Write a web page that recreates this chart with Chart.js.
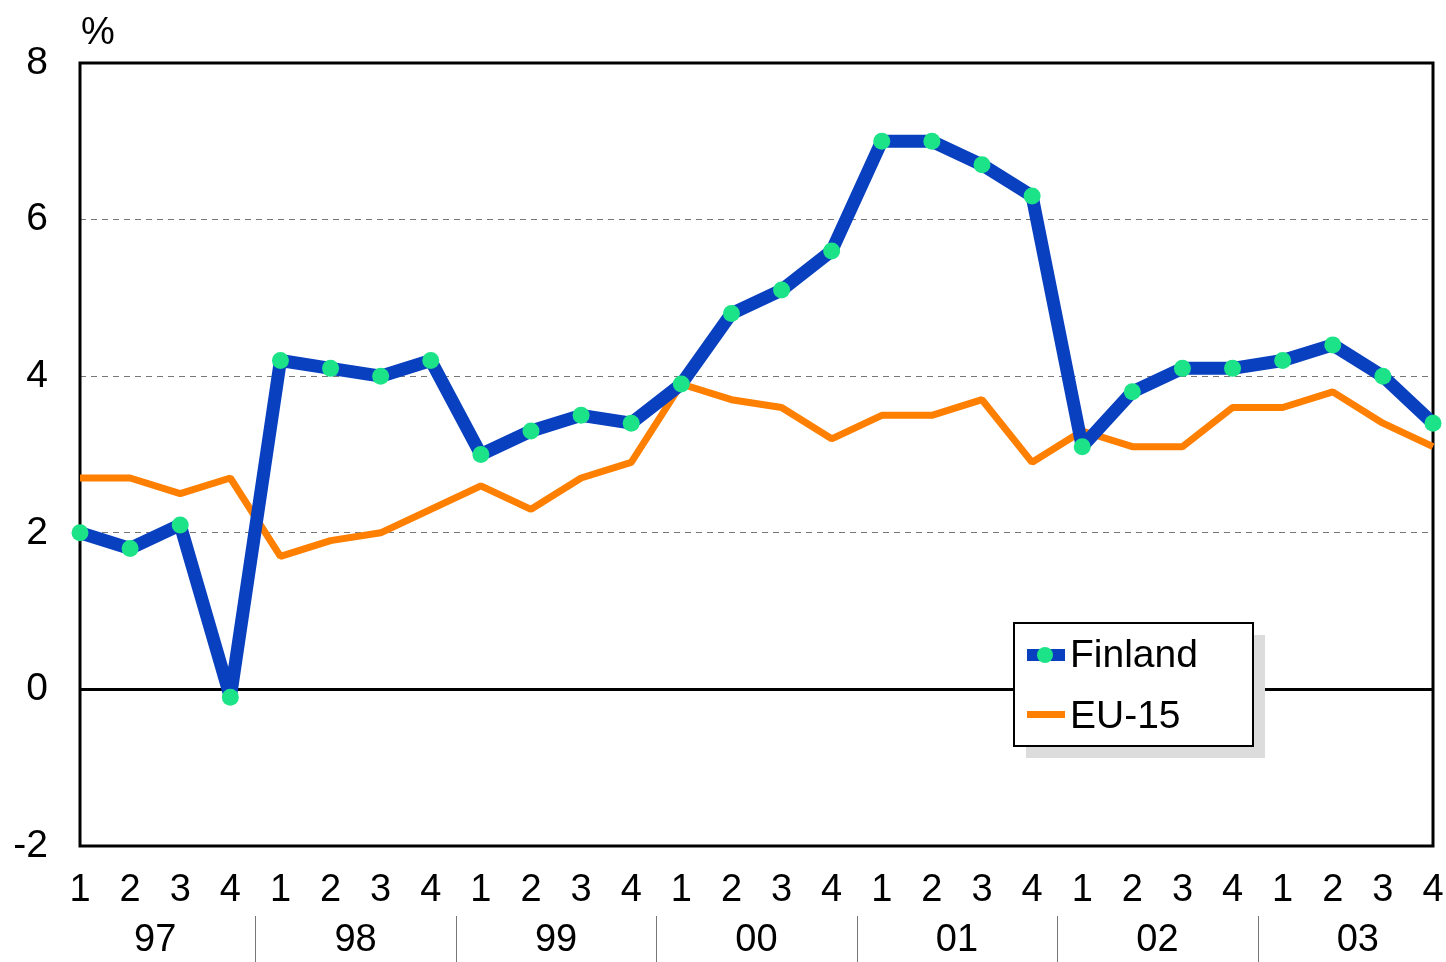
<!DOCTYPE html>
<html>
<head>
<meta charset="utf-8">
<script src="https://cdn.jsdelivr.net/npm/chart.js@4/dist/chart.umd.min.js"></script>
<style>
  html, body { margin: 0; padding: 0; background: #fff; }
  #wrap { width: 1446px; height: 962px; position: relative; }
</style>
</head>
<body>
<div id="wrap"><canvas id="chart" width="1446" height="962"></canvas></div>
<script>
const years = ['97', '98', '99', '00', '01', '02', '03'];
const quarters = ['1', '2', '3', '4'];
const finland = [2.0, 1.8, 2.1, -0.1, 4.2, 4.1, 4.0, 4.2, 3.0, 3.3, 3.5, 3.4, 3.9, 4.8, 5.1, 5.6,
                 7.0, 7.0, 6.7, 6.3, 3.1, 3.8, 4.1, 4.1, 4.2, 4.4, 4.0, 3.4];
const eu15 = [2.7, 2.7, 2.5, 2.7, 1.7, 1.9, 2.0, 2.3, 2.6, 2.3, 2.7, 2.9, 3.9, 3.7, 3.6, 3.2,
              3.5, 3.5, 3.7, 2.9, 3.3, 3.1, 3.1, 3.6, 3.6, 3.8, 3.4, 3.1];
const yTicks = [-2, 0, 2, 4, 6, 8];

const labels = [];
years.forEach(y => quarters.forEach(q => labels.push(q)));

const FONT = '"Liberation Sans", Arial, sans-serif';
const BLUE = '#0840c0';
const GREEN = '#1ce388';
const ORANGE = '#ff7f00';

// frame, zero line, x labels and legend
const extras = {
    id: 'extras',
    beforeDatasetsDraw(chart) {
        const c = chart.ctx, a = chart.chartArea;
        const y0 = chart.scales.y.getPixelForValue(0);
        c.save();
        c.strokeStyle = '#000';
        c.lineWidth = 3;
        c.beginPath();
        c.moveTo(a.left, y0);
        c.lineTo(a.right, y0);
        c.stroke();
        c.strokeRect(a.left, a.top, a.right - a.left, a.bottom - a.top);
        c.restore();
    },
    afterDraw(chart) {
        const c = chart.ctx;
        const x = chart.scales.x;
        c.save();
        // % unit
        c.fillStyle = '#000';
        c.font = '38px ' + FONT;
        c.textAlign = 'left';
        c.textBaseline = 'alphabetic';
        c.fillText('%', 81, 44);

        // quarter labels
        c.font = '38px ' + FONT;
        c.textAlign = 'center';
        c.textBaseline = 'middle';
        labels.forEach((q, i) => c.fillText(q, x.getPixelForValue(i), 891));

        // year labels + separators
        years.forEach((yr, i) => {
            const xa = x.getPixelForValue(i * 4);
            const xb = x.getPixelForValue(i * 4 + 3);
            c.fillText(yr, (xa + xb) / 2, 941);
            if (i > 0) {
                const xs = (x.getPixelForValue(i * 4 - 1) + xa) / 2;
                c.strokeStyle = '#777';
                c.lineWidth = 1;
                c.beginPath();
                c.moveTo(Math.round(xs) + 0.5, 916);
                c.lineTo(Math.round(xs) + 0.5, 962);
                c.stroke();
            }
        });

        // legend
        const lx = 1014, ly = 623, lw = 239, lh = 123;
        c.fillStyle = '#dcdcdc';
        c.fillRect(lx + 12, ly + 12, lw, lh);
        c.fillStyle = '#fff';
        c.fillRect(lx, ly, lw, lh);
        c.strokeStyle = '#000';
        c.lineWidth = 2;
        c.strokeRect(lx, ly, lw, lh);

        c.fillStyle = BLUE;
        c.fillRect(1027, 649, 38, 12);
        c.fillStyle = GREEN;
        c.beginPath();
        c.arc(1045, 655, 8, 0, Math.PI * 2);
        c.fill();
        c.fillStyle = ORANGE;
        c.fillRect(1027, 711, 38, 7);

        c.fillStyle = '#000';
        c.font = '39px ' + FONT;
        c.textAlign = 'left';
        c.textBaseline = 'middle';
        c.fillText('Finland', 1070, 656);
        c.fillText('EU-15', 1070, 717);
        c.restore();
    }
};

new Chart(document.getElementById('chart'), {
    type: 'line',
    data: {
        labels: labels,
        datasets: [{
            label: 'Finland',
            data: finland,
            borderColor: BLUE,
            borderWidth: 13,
            borderJoinStyle: 'bevel',
            pointBackgroundColor: GREEN,
            pointBorderWidth: 0,
            pointRadius: 8.5,
            tension: 0,
            clip: false,
            order: 0
        }, {
            label: 'EU-15',
            data: eu15,
            borderColor: ORANGE,
            borderWidth: 7,
            borderJoinStyle: 'bevel',
            pointRadius: 0,
            tension: 0,
            clip: false,
            order: 1
        }]
    },
    options: {
        responsive: false,
        animation: false,
        layout: { padding: { top: 63, right: 13, left: 0, bottom: 0 } },
        plugins: { legend: { display: false }, tooltip: { enabled: false } },
        scales: {
            x: {
                offset: false,
                grid: { display: false },
                border: { display: false },
                ticks: { display: false },
                afterFit(s) { s.height = 116; }
            },
            y: {
                min: -2,
                max: 8,
                afterBuildTicks(s) { s.ticks = yTicks.map(v => ({ value: v })); },
                grid: {
                    drawTicks: false,
                    color: ctx => (ctx.tick && [2, 4, 6].includes(ctx.tick.value)) ? '#777' : 'rgba(0,0,0,0)',
                    lineWidth: 1
                },
                border: { display: false, dash: [6, 5] },
                ticks: {
                    padding: 32,
                    color: '#000',
                    font: { family: FONT, size: 39 }
                },
                afterFit(s) { s.width = 80; }
            }
        }
    },
    plugins: [extras]
});
</script>
</body>
</html>
